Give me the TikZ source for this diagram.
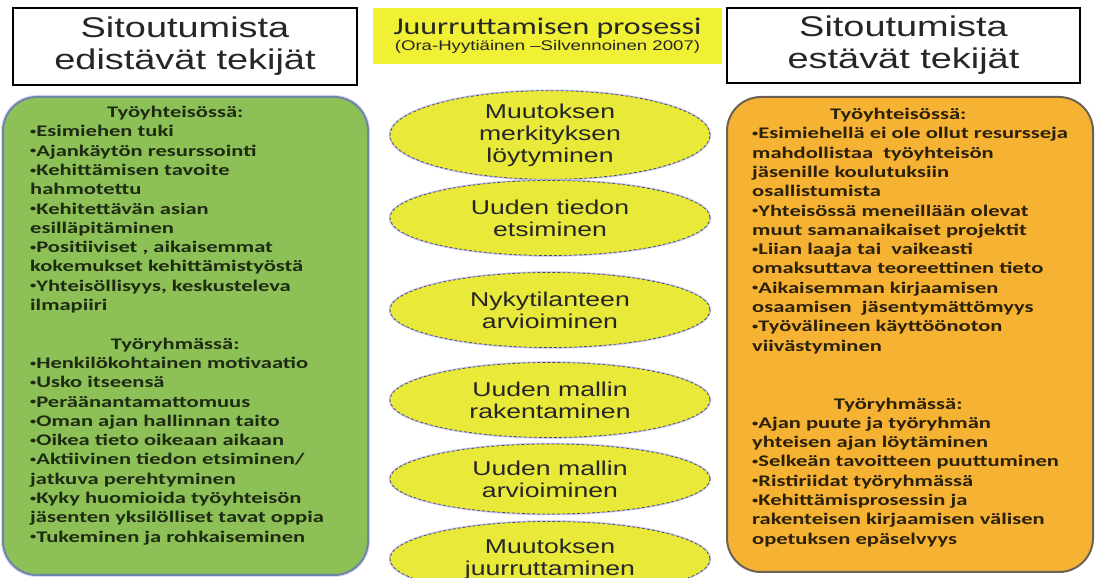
\documentclass[tikz,border=0pt]{standalone}
\usepackage{fontspec}
\usepackage{graphicx}
\setmainfont{Liberation Sans}[FakeStretch=1.33]
\newfontfamily\calfont{Carlito}[FakeStretch=1.33]
\newfontfamily\listfont{Carlito}[FakeStretch=1.39]
\usetikzlibrary{shapes.geometric,positioning}
\definecolor{boxgreen}{HTML}{8DC057}
\definecolor{boxorange}{HTML}{F6B233}
\definecolor{phaseyellow}{HTML}{E9E93A}
\definecolor{titleyellow}{HTML}{F0F035}
\definecolor{greenline}{HTML}{6F86A6}
\definecolor{orangeline}{HTML}{6B6255}
\definecolor{greentext}{HTML}{1E2B12}
\definecolor{orangetext}{HTML}{2B200A}
\newcommand{\listhead}[2]{\makebox[#1][c]{#2}}
\newcommand{\bul}{\raisebox{0.3ex}{\scalebox{0.55}{•}}}

\begin{document}
\begin{tikzpicture}[x=1pt,y=1pt,
    titlebox/.style={draw=black, line width=1.4pt, fill=white, align=center, inner sep=0pt,
        font=\fontsize{28.5}{32}\selectfont, text=black!85},
    factorbox/.style={rounded corners=34pt, line width=2pt, inner sep=0pt},
    factorlist/.style={align=left, anchor=north west, inner sep=0pt,
        font=\listfont\bfseries\fontsize{16.2}{19.3}\selectfont},
    phase/.style={ellipse, fill=phaseyellow, draw=gray!60!black, densely dashed, line width=0.7pt,
        minimum width=320pt, minimum height=75pt, inner sep=0pt, align=center,
        font=\fontsize{20}{22}\selectfont, text=black!85,
        preaction={draw=blue!25, solid, line width=2.4pt}},
  ]
  \fill[white] (0,0) rectangle (1095,578);
  \useasboundingbox (0,0) rectangle (1095,578);

  % otsikot
  \node[titlebox, minimum width=344, minimum height=77] (lefttitle) at (185,531.5) {Sitoutumista\\edistävät tekijät};
  \node[titlebox, minimum width=353, minimum height=75] (righttitle) at (903.5,532.5) {Sitoutumista\\estävät tekijät};
  \node[fill=titleyellow, minimum width=349, minimum height=56, align=center, inner sep=0pt,
        font=\fontsize{14}{16}\selectfont, text=black!85] (proctitle) at (547.5,542)
        {{\calfont\fontsize{24}{24}\selectfont Juurruttamisen prosessi}\\(Ora-Hyytiäinen –Silvennoinen 2007)};

  % laatikot
  \node[factorbox, draw=greenline, fill=boxgreen, minimum width=365, minimum height=478,
        preaction={draw=blue!15, line width=4pt}] (greenbox) at (185.5,242) {};
  \node[factorbox, draw=orangeline, fill=boxorange, minimum width=366, minimum height=475] (orangebox) at (910,243.5) {};

  \node[factorlist, text=greentext] (greenlist) at (30,472) {%
    \listhead{290pt}{Työyhteisössä:}\\
    \bul Esimiehen tuki\\
    \bul Ajankäytön resurssointi\\
    \bul Kehittämisen tavoite\\
    hahmotettu\\
    \bul Kehitettävän asian\\
    esilläpitäminen\\
    \bul Positiiviset , aikaisemmat\\
    kokemukset kehittämistyöstä\\
    \bul Yhteisöllisyys, keskusteleva\\
    ilmapiiri\\[19.3pt]
    \listhead{290pt}{Työryhmässä:}\\
    \bul Henkilökohtainen motivaatio\\
    \bul Usko itseensä\\
    \bul Peräänantamattomuus\\
    \bul Oman ajan hallinnan taito\\
    \bul Oikea tieto oikeaan aikaan\\
    \bul Aktiivinen tiedon etsiminen/\\
    jatkuva perehtyminen\\
    \bul Kyky huomioida työyhteisön\\
    jäsenten yksilölliset tavat oppia\\
    \bul Tukeminen ja rohkaiseminen};

  \node[factorlist, text=orangetext] (orangelist) at (752,470) {%
    \listhead{292pt}{Työyhteisössä:}\\
    \bul Esimiehellä ei ole ollut resursseja\\
    mahdollistaa\ \ työyhteisön\\
    jäsenille koulutuksiin\\
    osallistumista\\
    \bul Yhteisössä meneillään olevat\\
    muut samanaikaiset projektit\\
    \bul Liian laaja tai\ \ vaikeasti\\
    omaksuttava teoreettinen tieto\\
    \bul Aikaisemman kirjaamisen\\
    osaamisen\ \ jäsentymättömyys\\
    \bul Työvälineen käyttöönoton\\
    viivästyminen\\[38.6pt]
    \listhead{292pt}{Työryhmässä:}\\
    \bul Ajan puute ja työryhmän\\
    yhteisen ajan löytäminen\\
    \bul Selkeän tavoitteen puuttuminen\\
    \bul Ristiriidat työryhmässä\\
    \bul Kehittämisprosessin ja\\
    rakenteisen kirjaamisen välisen\\
    opetuksen epäselvyys};

  % prosessin vaiheet
  \node[phase] (meaning) at (550,443) {Muutoksen\\merkityksen\\löytyminen};
  \node[phase] (search) at (550,360) {Uuden tiedon\\etsiminen};
  \node[phase] (current) at (550,268) {Nykytilanteen\\arvioiminen};
  \node[phase] (build) at (550,178) {Uuden mallin\\rakentaminen};
  \node[phase, minimum height=70pt] (evaluate) at (550,99) {Uuden mallin\\arvioiminen};
  \node[phase] (root) at (550,19) {Muutoksen\\juurruttaminen};
\end{tikzpicture}
\end{document}
